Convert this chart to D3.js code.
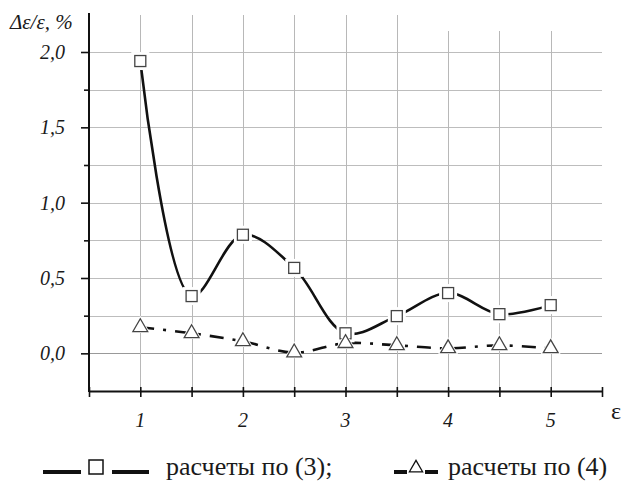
<!DOCTYPE html>
<html>
<head>
<meta charset="utf-8">
<script src="https://cdn.jsdelivr.net/npm/d3@7"></script>
<style>
  html, body { margin: 0; padding: 0; background: #fff; }
  svg { display: block; }
  text { font-family: "Times New Roman", "Liberation Serif", Times, Tinos, "Nimbus Roman", FreeSerif, "DejaVu Serif", "Noto Serif", serif; fill: #1a1a1a; }
  .it { font-style: italic; }
</style>
</head>
<body>
<svg id="chart" width="633" height="486"></svg>
<script>
// ε values (x) and relative error Δε/ε, % for the two calculation methods
const epsilon = [1, 1.5, 2, 2.5, 3, 3.5, 4, 4.5, 5];
const errorEq3 = [1.94, 0.38, 0.787, 0.567, 0.133, 0.247, 0.40, 0.26, 0.32];
const errorEq4 = [0.173, 0.133, 0.08, 0.005, 0.067, 0.053, 0.033, 0.053, 0.033];
const xTickValues = [1, 2, 3, 4, 5];
const xTickLabels = ["1", "2", "3", "4", "5"];
const yTickValues = [0, 0.5, 1.0, 1.5, 2.0];
const yTickLabels = ["0,0", "0,5", "1,0", "1,5", "2,0"];
const legendLabels = ["расчеты по (3);", "расчеты по (4)"];

const svg = d3.select("#chart");

const x = d3.scaleLinear().domain([0.5, 5.5]).range([89, 602]);
const y = d3.scaleLinear().domain([-0.25, 2.0]).range([391, 52]);

// grid
const grid = svg.append("g").attr("stroke-width", 1);
d3.range(0, 2.01, 0.25).forEach(v => {
  grid.append("line")
    .attr("x1", x(0.5)).attr("x2", x(5.5))
    .attr("y1", Math.round(y(v)) + 0.5).attr("y2", Math.round(y(v)) + 0.5)
    .attr("stroke", v === 0 ? "#999" : "#bdbdbd");
});
d3.range(1, 5.01, 0.5).forEach(v => {
  grid.append("line")
    .attr("stroke", "#b8b8b8")
    .attr("x1", Math.round(x(v)) + 0.5).attr("x2", Math.round(x(v)) + 0.5)
    .attr("y1", v < 3.9 ? 15 : 31).attr("y2", y(-0.25));
});

// axes
const axisX = d3.axisBottom(x)
  .tickValues(d3.range(0.5, 5.51, 0.5))
  .tickSizeInner(6).tickSizeOuter(0)
  .tickFormat(() => "");
const gx = svg.append("g").attr("transform", `translate(0,${y(-0.25)})`).call(axisX);
gx.select(".domain").attr("stroke", "#111").attr("stroke-width", 2);
gx.selectAll(".tick line").attr("stroke", "#111").attr("stroke-width", 1.6).attr("y1", -4);

const axisY = d3.axisLeft(y)
  .tickValues(d3.range(0, 2.01, 0.25))
  .tickSizeOuter(0)
  .tickFormat(() => "");
const gy = svg.append("g").attr("transform", `translate(${x(0.5)},0)`).call(axisY);
gy.select(".domain").attr("stroke", "#111").attr("stroke-width", 2)
  .attr("d", `M0,${y(-0.25) + 1}V13`);
gy.selectAll(".tick line")
  .attr("stroke", "#111").attr("stroke-width", 1.6)
  .attr("x2", d => (Math.abs(d * 2 - Math.round(d * 2)) < 1e-6) ? -8 : -5);

// tick labels
svg.append("g").selectAll("text").data(yTickValues).join("text")
  .attr("class", "it")
  .attr("x", 65).attr("y", d => y(d) + 7)
  .attr("text-anchor", "end").attr("font-size", 20)
  .text((d, i) => yTickLabels[i]);
svg.append("g").selectAll("text").data(xTickValues).join("text")
  .attr("class", "it")
  .attr("x", d => x(d)).attr("y", 427)
  .attr("text-anchor", "middle").attr("font-size", 20)
  .text((d, i) => xTickLabels[i]);

svg.append("text").attr("x", 611).attr("y", 419)
  .attr("font-size", 24)
  .text("ε");
svg.append("text").attr("class", "it").attr("x", 10).attr("y", 29)
  .attr("font-size", 21).text("Δε/ε, %");

// series lines
const pts3 = epsilon.map((e, i) => [e, errorEq3[i]]);
const pts4 = epsilon.map((e, i) => [e, errorEq4[i]]);

const line3 = d3.line().x(d => x(d[0])).y(d => y(d[1])).curve(d3.curveCatmullRom.alpha(0.5));
const line4 = d3.line().x(d => x(d[0])).y(d => y(d[1])).curve(d3.curveCatmullRom.alpha(0.5));

svg.append("path").attr("d", line3(pts3))
  .attr("fill", "none").attr("stroke", "#111").attr("stroke-width", 2.6);
svg.append("path").attr("d", line4(pts4))
  .attr("fill", "none").attr("stroke", "#111").attr("stroke-width", 2.6)
  .attr("stroke-dasharray", "14 9 3 9");

// white halos break the lines around the markers
svg.append("g").selectAll("rect").data(pts3).join("rect")
  .attr("x", d => x(d[0]) - 9).attr("y", d => y(d[1]) - 9)
  .attr("width", 18).attr("height", 18).attr("fill", "#fff");
svg.append("g").selectAll("rect").data(pts3).join("rect")
  .attr("x", d => x(d[0]) - 5.5).attr("y", d => y(d[1]) - 5.5)
  .attr("width", 11).attr("height", 11)
  .attr("fill", "#fff").attr("stroke", "#444").attr("stroke-width", 1.3);

const tri = d3.symbol().type(d3.symbolTriangle);
svg.append("g").selectAll("path").data(pts4).join("path")
  .attr("d", tri.size(170)())
  .attr("transform", d => `translate(${x(d[0])},${y(d[1])})`)
  .attr("fill", "#fff");
svg.append("g").selectAll("path").data(pts4).join("path")
  .attr("d", tri.size(95)())
  .attr("transform", d => `translate(${x(d[0])},${y(d[1])})`)
  .attr("fill", "#fff").attr("stroke", "#444").attr("stroke-width", 1.3);

// legend
const ly = 467;
const lg = svg.append("g");
lg.append("rect").attr("x", 43).attr("y", ly + 3).attr("width", 38).attr("height", 4).attr("fill", "#111");
lg.append("rect").attr("x", 89).attr("y", ly - 7).attr("width", 14).attr("height", 14)
  .attr("fill", "#fff").attr("stroke", "#111").attr("stroke-width", 1.5);
lg.append("rect").attr("x", 112).attr("y", ly + 3).attr("width", 37).attr("height", 4).attr("fill", "#111");
lg.append("text").attr("x", 166).attr("y", ly + 8)
  .attr("font-size", 26)
  .text(legendLabels[0]);

lg.append("rect").attr("x", 394).attr("y", ly + 3).attr("width", 13).attr("height", 4).attr("fill", "#111");
lg.append("path").attr("d", d3.symbol().type(d3.symbolTriangle).size(75)())
  .attr("transform", `translate(416,${ly + 1})`)
  .attr("fill", "#fff").attr("stroke", "#111").attr("stroke-width", 1.3);
lg.append("rect").attr("x", 425).attr("y", ly + 3).attr("width", 13).attr("height", 4).attr("fill", "#111");
lg.append("text").attr("x", 448).attr("y", ly + 8)
  .attr("font-size", 26)
  .text(legendLabels[1]);
</script>
</body>
</html>
